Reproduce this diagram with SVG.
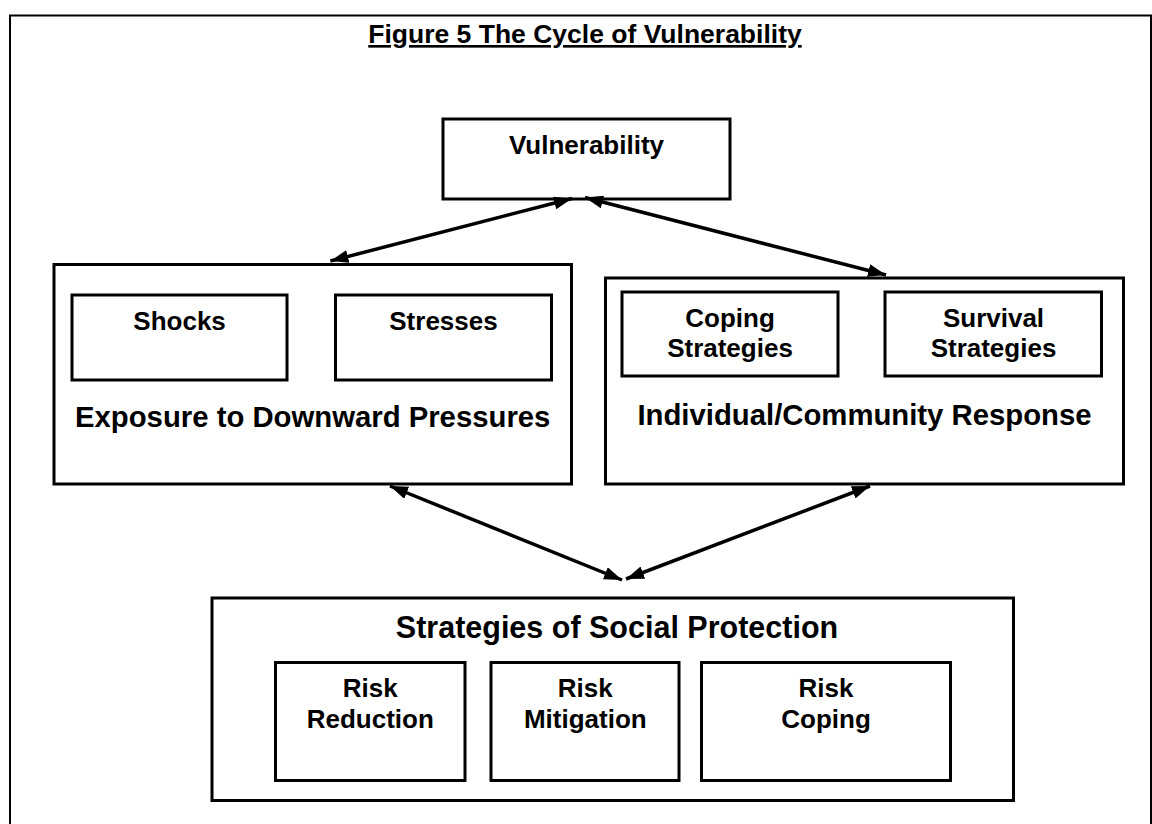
<svg xmlns="http://www.w3.org/2000/svg" width="1152" height="824" viewBox="0 0 1152 824">
<defs>
<marker id="ah" viewBox="0 0 18 13" refX="18" refY="6.5" markerWidth="18" markerHeight="13" markerUnits="userSpaceOnUse" orient="auto-start-reverse">
<path d="M0,0 L18,6.5 L0,13 z" fill="#000"/>
</marker>
<style>
.box{fill:#fff;stroke:#000;stroke-width:3}
.t{font-family:"Liberation Sans",Arial,sans-serif;font-weight:bold;fill:#000;text-anchor:middle}
.s26{font-size:26px}
.s29{font-size:29.3px}
.conn{stroke:#000;stroke-width:3.5;fill:none;marker-start:url(#ah);marker-end:url(#ah)}
</style>
</defs>
<rect width="1152" height="824" fill="#fff"/>
<rect id="frame" x="10" y="15.5" width="1141" height="830" fill="none" stroke="#000" stroke-width="2"/>
<text id="title" class="t" style="font-size:26.5px" x="585" y="43" text-decoration="underline">Figure 5 The Cycle of Vulnerability</text>

<g id="vulnerability">
<rect class="box" x="443" y="119" width="287" height="80"/>
<text class="t s26" x="586.5" y="154">Vulnerability</text>
</g>

<g id="exposure">
<rect class="box" x="54" y="264.5" width="517.5" height="219.5"/>
<text class="t s29" x="312.7" y="426.7">Exposure to Downward Pressures</text>
</g>
<g id="shocks">
<rect class="box" x="72" y="295" width="215" height="85"/>
<text class="t s26" x="179.6" y="330">Shocks</text>
</g>
<g id="stresses">
<rect class="box" x="335.5" y="295" width="216" height="85"/>
<text class="t s26" x="443.5" y="330">Stresses</text>
</g>

<g id="response">
<rect class="box" x="605.5" y="278" width="518" height="206"/>
<text class="t s29" x="864.5" y="425">Individual/Community Response</text>
</g>
<g id="coping">
<rect class="box" x="622" y="292" width="216" height="84"/>
<text class="t s26" x="730" y="326.7">Coping</text>
<text class="t s26" x="730" y="357.3">Strategies</text>
</g>
<g id="survival">
<rect class="box" x="885" y="292" width="216.5" height="84"/>
<text class="t s26" x="993.5" y="326.7">Survival</text>
<text class="t s26" x="993.5" y="357.3">Strategies</text>
</g>

<g id="social">
<rect class="box" x="212" y="598" width="801.5" height="202.5"/>
<text class="t" style="font-size:30.5px" x="617" y="638">Strategies of Social Protection</text>
</g>
<g id="riskreduction">
<rect class="box" x="275.5" y="662.5" width="189.5" height="118"/>
<text class="t s26" x="370.3" y="697">Risk</text>
<text class="t s26" x="370.3" y="728">Reduction</text>
</g>
<g id="riskmitigation">
<rect class="box" x="491" y="662.5" width="188" height="118"/>
<text class="t s26" x="585.3" y="697">Risk</text>
<text class="t s26" x="585.3" y="728">Mitigation</text>
</g>
<g id="riskcoping">
<rect class="box" x="701.5" y="662.5" width="249" height="118"/>
<text class="t s26" x="826" y="697">Risk</text>
<text class="t s26" x="826" y="728">Coping</text>
</g>

<g id="connectors">
<line class="conn" x1="330.4" y1="261" x2="572" y2="198.5"/>
<line class="conn" x1="585" y1="197.5" x2="886" y2="275"/>
<line class="conn" x1="390" y1="486" x2="622" y2="580"/>
<line class="conn" x1="626" y1="579" x2="870" y2="486"/>
</g>
</svg>
